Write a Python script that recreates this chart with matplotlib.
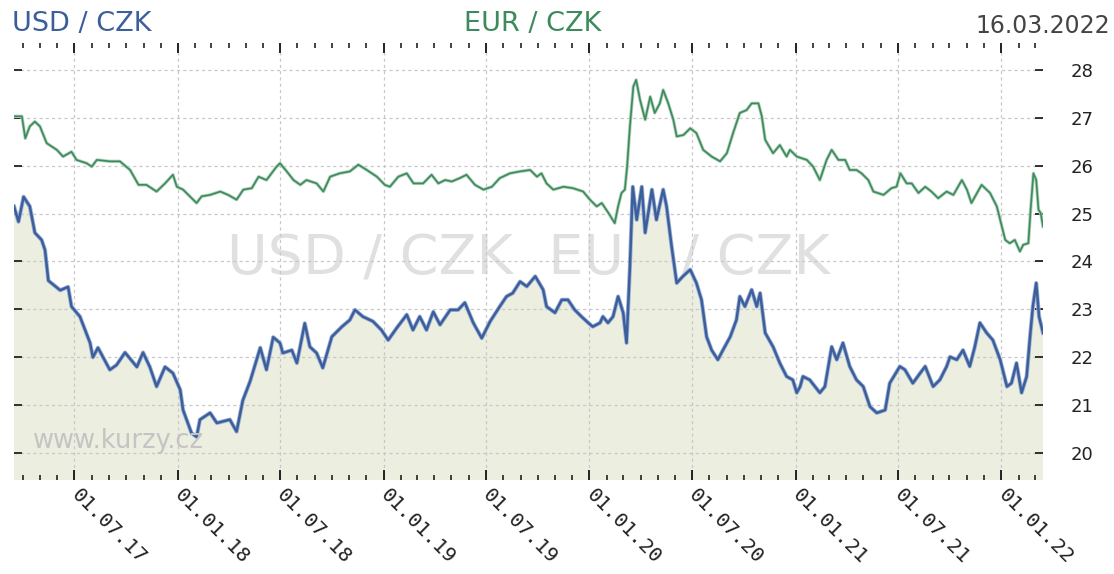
import matplotlib
matplotlib.use("Agg")
import matplotlib.pyplot as plt
import matplotlib.dates as mdates
import numpy as np

# days counted from 16.03.2017
start = np.datetime64("2017-03-16")
end = np.datetime64("2022-03-16")

usd_days = [0, 8, 17, 28, 37, 49, 55, 61, 82, 96, 102, 117, 135, 140, 149, 170, 182, 197,
            218, 229, 241, 253, 268, 282, 295, 300, 315, 324, 330, 348, 360, 383, 395, 406,
            419, 437, 448, 460, 472, 477, 493, 502, 516, 525, 537, 548, 564, 582, 596, 605,
            619, 637, 652, 664, 679, 697, 708, 720, 732, 744, 756, 774, 788, 800, 815, 830,
            845, 862, 874, 885, 898, 910, 925, 939, 945, 960, 972, 983, 995, 1007, 1019,
            1027, 1040, 1045, 1054, 1063, 1072, 1081, 1087, 1093, 1098, 1105, 1114, 1120,
            1132, 1140, 1152, 1158, 1167, 1176, 1187, 1200, 1211, 1220, 1229, 1238, 1249,
            1258, 1271, 1282, 1288, 1297, 1309, 1318, 1324, 1333, 1347, 1359, 1371, 1382,
            1389, 1395, 1400, 1412, 1430, 1439, 1451, 1460, 1471, 1483, 1495, 1507, 1519,
            1531, 1546, 1554, 1572, 1581, 1595, 1608, 1617, 1631, 1643, 1655, 1661, 1673,
            1684, 1696, 1705, 1714, 1726, 1737, 1750, 1762, 1770, 1779, 1788, 1797, 1803,
            1808, 1814, 1819, 1826]
usd_czk = [25.15, 24.83, 25.35, 25.15, 24.60, 24.45, 24.24, 23.60, 23.40, 23.47, 23.06, 22.85,
           22.30, 22.00, 22.20, 21.74, 21.84, 22.10, 21.80, 22.10, 21.80, 21.39, 21.80, 21.67,
           21.32, 20.90, 20.42, 20.34, 20.70, 20.84, 20.63, 20.70, 20.45, 21.10, 21.50, 22.20,
           21.74, 22.42, 22.30, 22.09, 22.15, 21.88, 22.71, 22.22, 22.09, 21.78, 22.43, 22.64,
           22.78, 22.99, 22.85, 22.75, 22.57, 22.36, 22.61, 22.89, 22.57, 22.85, 22.57, 22.95,
           22.68, 22.99, 22.99, 23.14, 22.72, 22.40, 22.75, 23.06, 23.27, 23.34, 23.58, 23.48,
           23.69, 23.41, 23.06, 22.93, 23.20, 23.20, 22.99, 22.85, 22.72, 22.64, 22.72, 22.85,
           22.72, 22.85, 23.27, 22.93, 22.30, 23.90, 25.56, 24.87, 25.56, 24.60, 25.50, 24.87,
           25.50, 25.15, 24.31, 23.55, 23.69, 23.83, 23.55, 23.20, 22.43, 22.15, 21.95, 22.15,
           22.43, 22.78, 23.27, 23.06, 23.41, 23.06, 23.34, 22.51, 22.22, 21.88, 21.60, 21.53,
           21.26, 21.39, 21.60, 21.53, 21.26, 21.39, 22.22, 21.95, 22.30, 21.81, 21.53, 21.39,
           20.97, 20.84, 20.90, 21.46, 21.81, 21.74, 21.46, 21.67, 21.81, 21.39, 21.53, 21.81,
           22.01, 21.95, 22.15, 21.81, 22.22, 22.72, 22.51, 22.36, 21.95, 21.39, 21.46, 21.88,
           21.26, 21.60, 22.43, 23.06, 23.55, 22.85, 22.51]

eur_days = [0, 14, 20, 28, 37, 46, 58, 76, 87, 102, 111, 129, 138, 147, 170, 188, 206, 221,
            235, 253, 268, 282, 289, 300, 312, 324, 333, 348, 366, 380, 395, 407, 422, 434,
            448, 466, 472, 484, 496, 508, 519, 537, 549, 561, 578, 596, 611, 626, 644, 658,
            667, 682, 697, 709, 726, 741, 753, 765, 777, 791, 803, 818, 833, 848, 862, 880,
            898, 916, 928, 936, 945, 957, 975, 992, 1010, 1022, 1034, 1043, 1055, 1066, 1072,
            1078, 1084, 1088, 1093, 1099, 1104, 1111, 1120, 1129, 1137, 1146, 1152, 1161,
            1170, 1176, 1188, 1200, 1211, 1223, 1238, 1253, 1265, 1276, 1288, 1300, 1309,
            1321, 1327, 1333, 1347, 1359, 1371, 1377, 1383, 1389, 1407, 1418, 1430, 1442,
            1451, 1463, 1475, 1483, 1495, 1504, 1516, 1525, 1543, 1557, 1566, 1573, 1584,
            1593, 1605, 1617, 1628, 1640, 1655, 1667, 1682, 1691, 1699, 1717, 1732, 1744,
            1753, 1759, 1767, 1776, 1785, 1791, 1800, 1804, 1809, 1814, 1818, 1822, 1826]
eur_czk = [27.03, 27.03, 26.57, 26.82, 26.92, 26.82, 26.47, 26.33, 26.19, 26.29, 26.12, 26.05,
           25.98, 26.12, 26.09, 26.09, 25.91, 25.60, 25.60, 25.46, 25.63, 25.81, 25.56, 25.50,
           25.36, 25.22, 25.36, 25.39, 25.46, 25.39, 25.29, 25.50, 25.53, 25.77, 25.70, 25.98,
           26.05, 25.88, 25.70, 25.60, 25.70, 25.63, 25.46, 25.77, 25.84, 25.88, 26.02, 25.91,
           25.77, 25.60, 25.56, 25.77, 25.84, 25.63, 25.63, 25.81, 25.63, 25.70, 25.67, 25.74,
           25.81, 25.60, 25.50, 25.56, 25.74, 25.84, 25.88, 25.91, 25.77, 25.84, 25.63, 25.50,
           25.56, 25.53, 25.46, 25.29, 25.15, 25.22, 25.01, 24.80, 25.15, 25.43, 25.50, 25.98,
           26.82, 27.65, 27.79, 27.37, 26.96, 27.44, 27.10, 27.30, 27.58, 27.30, 26.96, 26.61,
           26.64, 26.78, 26.68, 26.33, 26.19, 26.09, 26.26, 26.68, 27.10, 27.16, 27.30, 27.30,
           27.03, 26.54, 26.26, 26.43, 26.19, 26.33, 26.26, 26.19, 26.12, 25.98, 25.70, 26.12,
           26.33, 26.12, 26.12, 25.91, 25.91, 25.84, 25.70, 25.46, 25.39, 25.53, 25.56, 25.84,
           25.63, 25.63, 25.43, 25.56, 25.46, 25.32, 25.46, 25.39, 25.70, 25.50, 25.22, 25.60,
           25.43, 25.15, 24.73, 24.45, 24.38, 24.45, 24.21, 24.35, 24.38, 25.08, 25.84, 25.70,
           25.08, 25.01, 24.73]

usd_dates = start + np.array(usd_days).astype("timedelta64[D]")
eur_dates = start + np.array(eur_days).astype("timedelta64[D]")

blue = "#3c5f9c"
green = "#3d8a5c"

fig = plt.figure(figsize=(11.14, 5.74), dpi=100, facecolor="white")
ax = fig.add_axes([14 / 1114, 94 / 574, 1029 / 1114, 437 / 574])
ax.set_facecolor("white")

ax.fill_between(usd_dates, usd_czk, 0, color="#eceee0", lw=0, zorder=1)
ax.text(0.5, 0.505, "USD / CZK  EUR / CZK", transform=ax.transAxes, ha="center",
        va="center", fontsize=40, color="#e0e0e0", zorder=0.5)

ax.plot(eur_dates, eur_czk, color="#b0d2bb", lw=2.4, zorder=3)
ax.plot(eur_dates, eur_czk, color=green, lw=1.2, zorder=4)
ax.plot(usd_dates, usd_czk, color="#9fb3d6", lw=3.0, zorder=3)
ax.plot(usd_dates, usd_czk, color=blue, lw=1.8, zorder=4)

ax.text(0.018, 0.09, "www.kurzy.cz", transform=ax.transAxes, fontsize=18.5,
        color="#c4c4c4", ha="left", va="center", zorder=5)

ax.set_xlim(start, end)
ax.set_ylim(19.44, 28.56)
ax.set_yticks(range(20, 29))

ax.xaxis.set_major_locator(mdates.MonthLocator(bymonth=[1, 7]))
ax.xaxis.set_minor_locator(mdates.MonthLocator())
ax.xaxis.set_major_formatter(mdates.DateFormatter("%d.%m.%y"))

ax.grid(True, which="major", color="#c8c8c8", linestyle=(0, (2.5, 2.5)), lw=0.9, zorder=2)
ax.set_axisbelow(False)
for s in ax.spines.values():
    s.set_visible(False)

ax.tick_params(axis="x", which="both", direction="in", top=True, bottom=True, color="#222222")
ax.tick_params(axis="x", which="major", length=7, width=1.4, pad=9, labelsize=14.5)
ax.tick_params(axis="x", which="minor", length=3.5, width=1.2)
ax.tick_params(axis="y", direction="in", left=True, right=True, labelleft=False,
               labelright=True, length=6, width=1.3, pad=20, labelsize=13, color="#222222")
for lbl in ax.get_xticklabels():
    lbl.set_rotation(-45)
    lbl.set_ha("left")
    lbl.set_va("center")
    lbl.set_rotation_mode("anchor")
    lbl.set_family("DejaVu Sans Mono")
    lbl.set_color("#222222")
for lbl in ax.get_yticklabels():
    lbl.set_color("#222222")

fig.text(12 / 1114, 1 - 24 / 574, "USD / CZK", fontsize=19.5, color=blue, ha="left", va="center")
fig.text(533 / 1114, 1 - 24 / 574, "EUR / CZK", fontsize=19.5, color=green, ha="center", va="center")
fig.text(1110 / 1114, 1 - 26 / 574, "16.03.2022", fontsize=17, color="#444444", ha="right", va="center")

fig.savefig("out.png", dpi=100, facecolor="white")
